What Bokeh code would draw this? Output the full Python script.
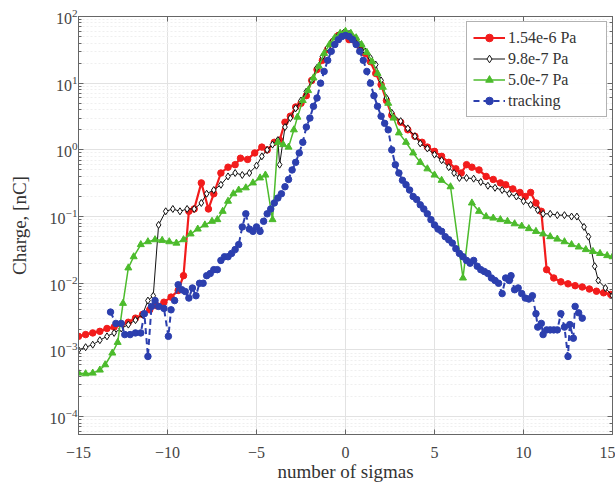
from bokeh.plotting import figure
from bokeh.models import Range1d, LogAxis, LinearAxis, Legend, LegendItem, FixedTicker, LogTicker
from bokeh.embed import file_html
from bokeh.resources import INLINE

# ---------------- data ----------------
red_x = [-15.0, -14.6, -14.2, -13.8, -13.4, -13.0, -12.6, -12.2, -11.8, -11.4, -11.0, -10.6, -10.2, -9.8,
         -9.4, -9.1, -8.8, -8.5, -8.1, -7.7, -7.4, -7.0, -6.6, -6.2, -5.9, -5.5, -5.1, -4.7, -4.4, -4.0,
         -3.7, -3.4, -3.1, -2.8, -2.5, -2.2, -1.9, -1.6, -1.3, -1.0, -0.7, -0.4, -0.1, 0.2, 0.5, 0.8, 1.1,
         1.4, 1.7, 2.0, 2.3, 2.6, 3.1, 3.5, 3.9, 4.3, 4.6, 5.0, 5.4, 5.8, 6.2, 6.5, 6.8, 7.1, 7.5, 7.9, 8.3,
         8.7, 9.0, 9.4, 9.8, 10.1, 10.4, 10.7, 11.0, 11.3, 11.7, 12.1, 12.5, 12.9, 13.3, 13.7, 14.1, 14.5, 14.9]
red_y = [0.0016, 0.0017, 0.0018, 0.0019, 0.0021, 0.0022, 0.0024, 0.0026, 0.0030, 0.0034, 0.0040, 0.0046, 0.0052, 0.0062,
         0.0078, 0.013, 0.12, 0.13, 0.32, 0.13, 0.22, 0.45, 0.55, 0.6, 0.75, 0.72, 0.9, 1.1, 1.0, 1.3,
         1.4, 2.6, 3.2, 4.4, 5.0, 6.5, 11, 16, 22, 32, 42, 52, 55, 45, 44, 36, 28,
         21, 14, 9.5, 5.5, 3.3, 2.6, 2.0, 1.6, 1.3, 1.1, 0.95, 0.8, 0.65, 0.52, 0.45, 0.6, 0.55, 0.5, 0.4, 0.36,
         0.32, 0.3, 0.26, 0.23, 0.2, 0.23, 0.16, 0.12, 0.016, 0.012, 0.0105, 0.0098, 0.0092, 0.0088, 0.0082, 0.0076, 0.0072, 0.0068]

black_x = [-15.0, -14.6, -14.2, -13.8, -13.4, -13.0, -12.6, -12.2, -11.8, -11.4, -11.1, -10.8, -10.5, -10.1, -9.7,
           -9.3, -8.9, -8.5, -8.1, -7.8, -7.4, -7.0, -6.6, -6.2, -5.8, -5.4, -5.0, -4.7, -4.4, -4.1, -3.8, -3.7,
           -3.4, -3.1, -2.8, -2.5, -2.2, -1.9, -1.6, -1.3, -1.0, -0.7, -0.4, -0.1, 0.2, 0.5, 0.8, 1.1, 1.4, 1.7,
           2.0, 2.3, 2.6, 3.1, 3.5, 3.9, 4.2, 4.6, 5.0, 5.4, 5.8, 6.1, 6.4, 6.8, 7.2, 7.6, 8.0, 8.4, 8.8, 9.2,
           9.6, 10.0, 10.4, 10.8, 11.1, 11.5, 11.9, 12.3, 12.7, 13.0, 13.4, 13.65, 14.0, 14.2, 14.6, 15.0]
black_y = [0.0010, 0.0011, 0.0012, 0.0014, 0.0016, 0.0018, 0.0021, 0.0024, 0.0028, 0.0034, 0.0055, 0.0065, 0.075, 0.12, 0.13,
           0.12, 0.13, 0.13, 0.16, 0.22, 0.25, 0.3, 0.4, 0.45, 0.42, 0.45, 0.58, 0.8, 1.0, 1.2, 1.4, 0.6,
           2.2, 3.0, 4.2, 5.5, 7.5, 11, 17, 25, 34, 44, 52, 57, 55, 47, 38, 30, 24, 19,
           11, 6.0, 3.6, 2.7, 2.1, 1.6, 1.25, 1.05, 0.85, 0.7, 0.55, 0.45, 0.38, 0.38, 0.37, 0.33, 0.29, 0.27, 0.25, 0.22,
           0.2, 0.17, 0.15, 0.125, 0.11, 0.11, 0.105, 0.105, 0.1, 0.1, 0.07, 0.05, 0.018, 0.011, 0.0085, 0.0065]

green_x = [-15.0, -14.6, -14.2, -13.8, -13.5, -13.1, -12.8, -12.5, -12.2, -11.9, -11.5, -11.1, -10.7, -10.3, -9.9,
           -9.5, -9.1, -8.7, -8.3, -7.9, -7.5, -7.2, -6.9, -6.6, -6.3, -6.0, -5.6, -5.2, -4.8, -4.5, -4.1, -3.8,
           -3.5, -3.2, -2.9, -2.7, -2.4, -2.1, -1.8, -1.5, -1.2, -0.9, -0.6, -0.3, 0.0, 0.3, 0.6, 0.9, 1.2, 1.5,
           1.8, 2.1, 2.4, 2.7, 3.0, 3.4, 3.8, 4.2, 4.6, 5.0, 5.4, 5.9, 6.6, 7.1, 7.5, 7.9, 8.3, 8.7, 9.1, 9.5,
           9.9, 10.3, 10.7, 11.1, 11.5, 11.9, 12.3, 12.7, 13.1, 13.5, 13.9, 14.3, 14.7, 15.0]
green_y = [0.00045, 0.00044, 0.00045, 0.0005, 0.0006, 0.0009, 0.0013, 0.005, 0.017, 0.025, 0.038, 0.042, 0.045, 0.044, 0.042,
           0.04, 0.045, 0.055, 0.065, 0.075, 0.085, 0.09, 0.12, 0.17, 0.22, 0.25, 0.27, 0.32, 0.38, 0.42, 0.09, 1.3,
           1.2, 1.1, 2.0, 3.1, 5.5, 7.8, 12, 18, 28, 38, 48, 56, 60, 56, 48, 38, 29, 21,
           14, 8.7, 5.0, 3.0, 1.8, 1.3, 0.9, 0.65, 0.52, 0.42, 0.35, 0.28, 0.012, 0.16, 0.12, 0.1, 0.095, 0.09, 0.085, 0.078,
           0.072, 0.066, 0.06, 0.055, 0.05, 0.046, 0.042, 0.038, 0.035, 0.032, 0.03, 0.028, 0.026, 0.025]

blue_x = [-13.2, -12.9, -12.6, -12.4, -12.1, -11.8, -11.5, -11.3, -11.1, -10.9, -10.7, -10.5, -10.2, -9.95, -9.8,
          -9.6, -9.4, -9.2, -9.0, -8.8, -8.6, -8.4, -8.2, -8.0, -7.8, -7.6, -7.4, -7.2, -7.0, -6.8, -6.6, -6.4,
          -6.2, -6.0, -5.8, -5.6, -5.4, -5.2, -5.0, -4.8, -4.6, -4.4, -4.2, -4.0, -3.8, -3.6, -3.4, -3.2, -3.0,
          -2.8, -2.6, -2.4, -2.2, -2.0, -1.8, -1.6, -1.4, -1.2, -1.0, -0.8, -0.6, -0.4, -0.2, 0.0, 0.2, 0.4, 0.6,
          0.8, 1.0, 1.2, 1.4, 1.6, 1.8, 2.0, 2.2, 2.4, 2.6, 2.8, 3.0, 3.2, 3.4, 3.6, 3.8, 4.0, 4.2, 4.4, 4.6,
          4.8, 5.0, 5.2, 5.4, 5.6, 5.8, 6.0, 6.2, 6.4, 6.6, 6.8, 7.0, 7.2, 7.4, 7.6, 7.8, 8.0, 8.2, 8.4, 8.6,
          8.8, 9.0, 9.2, 9.3, 9.5, 9.7, 9.9, 10.1, 10.3, 10.5, 10.7, 10.8, 11.0, 11.1, 11.3, 11.5, 11.7, 11.9,
          12.1, 12.3, 12.5, 12.6, 12.8, 12.9, 13.1, 13.3]
blue_y = [0.0037, 0.0025, 0.0025, 0.0017, 0.0017, 0.0018, 0.0018, 0.0035, 0.0008, 0.0045, 0.0055, 0.0045, 0.0042, 0.0016, 0.004,
          0.0055, 0.0095, 0.008, 0.0075, 0.006, 0.0085, 0.0065, 0.01, 0.01, 0.013, 0.014, 0.016, 0.016, 0.022, 0.025, 0.025, 0.028,
          0.032, 0.038, 0.07, 0.11, 0.065, 0.06, 0.07, 0.06, 0.085, 0.11, 0.13, 0.16, 0.19, 0.22, 0.28, 0.36, 0.5,
          0.65, 0.9, 1.3, 2.2, 3.0, 4.5, 6.0, 10, 15, 22, 30, 38, 45, 50, 52, 50, 45, 38,
          30, 22, 15, 10, 6.5, 4.5, 3.2, 2.5, 2.0, 1.0, 0.6, 0.45, 0.35, 0.3, 0.25, 0.2, 0.18, 0.15, 0.13, 0.11,
          0.09, 0.075, 0.065, 0.06, 0.05, 0.045, 0.04, 0.033, 0.028, 0.025, 0.022, 0.02, 0.022, 0.018, 0.016, 0.015, 0.014, 0.012, 0.011, 0.01,
          0.007, 0.012, 0.011, 0.013, 0.008, 0.0085, 0.007, 0.006, 0.0058, 0.0065, 0.0035, 0.0022, 0.0025, 0.0017, 0.002, 0.002, 0.002, 0.002,
          0.0035, 0.0022, 0.0008, 0.0024, 0.0015, 0.0045, 0.0036, 0.003]

x_ticks = [-15, -10, -5, 0, 5, 10, 15]
labels = ["1.54e-6 Pa", "9.8e-7 Pa", "5.0e-7 Pa", "tracking"]

SERIF = "Liberation Serif"
RED, BLACK, GREEN, BLUE = "#f21c1c", "#111111", "#4cbb2c", "#2c3fae"
AXC = "#666666"

p = figure(width=615, height=486, y_axis_type="log", output_backend="svg", toolbar_location=None,
           x_range=Range1d(-15, 15), y_range=Range1d(5.4e-5, 100),
           min_border_left=78, min_border_right=3, min_border_top=16, min_border_bottom=52)
p.background_fill_color = "white"
p.border_fill_color = "white"
p.outline_line_color = AXC
p.outline_line_width = 1

xa = p.below[0]
ya = p.left[0]
for ax in (xa, ya):
    ax.axis_line_color = AXC
    ax.major_tick_in = 5
    ax.major_tick_out = 0
    ax.minor_tick_in = 3
    ax.minor_tick_out = 0
    ax.major_tick_line_color = AXC
    ax.minor_tick_line_color = AXC
    ax.major_label_text_font = SERIF
    ax.major_label_text_font_size = "16px"
    ax.major_label_text_color = "#444444"
    ax.axis_label_text_font = SERIF
    ax.axis_label_text_font_size = "19px"
    ax.axis_label_text_font_style = "normal"
    ax.axis_label_text_color = "#333333"
xa.ticker = FixedTicker(ticks=x_ticks)
xa.minor_tick_line_color = None
xa.axis_label = "number of sigmas"
xa.axis_label_standoff = 0
xa.major_label_standoff = 12
ya.axis_label = "Charge, [nC]"
ya.axis_label_standoff = 17
ya.major_label_standoff = 1

# mirrored axes (ticks only) on top and right
top_ax = LinearAxis(ticker=FixedTicker(ticks=x_ticks))
right_ax = LogAxis(ticker=LogTicker())
for ax in (top_ax, right_ax):
    ax.major_label_text_font_size = "2px"
    ax.major_label_text_alpha = 0
    ax.major_label_standoff = 0
    ax.major_tick_out = 0
    ax.minor_tick_out = 0
    ax.major_tick_in = 5
    ax.minor_tick_in = 3
    ax.axis_line_color = AXC
    ax.major_tick_line_color = AXC
    ax.minor_tick_line_color = AXC
top_ax.minor_tick_line_color = None
p.add_layout(top_ax, "above")
p.add_layout(right_ax, "right")

p.xgrid.grid_line_color = "#e2e2e2"
p.ygrid.grid_line_color = "#e2e2e2"
p.ygrid.minor_grid_line_color = "#efefef"
p.ygrid.minor_grid_line_dash = "2 2"

r1l = p.line(red_x, red_y, line_color=RED, line_width=2.2)
r1m = p.scatter(red_x, red_y, marker="circle", size=6.5, fill_color=RED, line_color=RED)
r2l = p.line(black_x, black_y, line_color=BLACK, line_width=1)
r2m = p.scatter(black_x, black_y, marker="diamond", size=7, fill_color="white", line_color=BLACK, line_width=1)
r3l = p.line(green_x, green_y, line_color=GREEN, line_width=1.5)
r3m = p.scatter(green_x, green_y, marker="triangle", size=7, fill_color=GREEN, line_color=GREEN)
r4l = p.line(blue_x, blue_y, line_color=BLUE, line_width=2, line_dash="6 4")
r4m = p.scatter(blue_x, blue_y, marker="circle", size=6.5, fill_color=BLUE, line_color=BLUE)

legend = Legend(items=[
    LegendItem(label=labels[0], renderers=[r1l, r1m]),
    LegendItem(label=labels[1], renderers=[r2l, r2m]),
    LegendItem(label=labels[2], renderers=[r3l, r3m]),
    LegendItem(label=labels[3], renderers=[r4l, r4m]),
], location="top_right")
legend.label_text_font = SERIF
legend.label_text_font_size = "16px"
legend.label_text_color = "#333333"
legend.glyph_width = 32
legend.glyph_height = 19
legend.label_height = 19
legend.label_width = 92
legend.spacing = 2
legend.padding = 6
legend.margin = 5
legend.border_line_color = AXC
legend.label_standoff = 3
p.add_layout(legend)

open("out.html", "w").write(file_html(p, INLINE))
